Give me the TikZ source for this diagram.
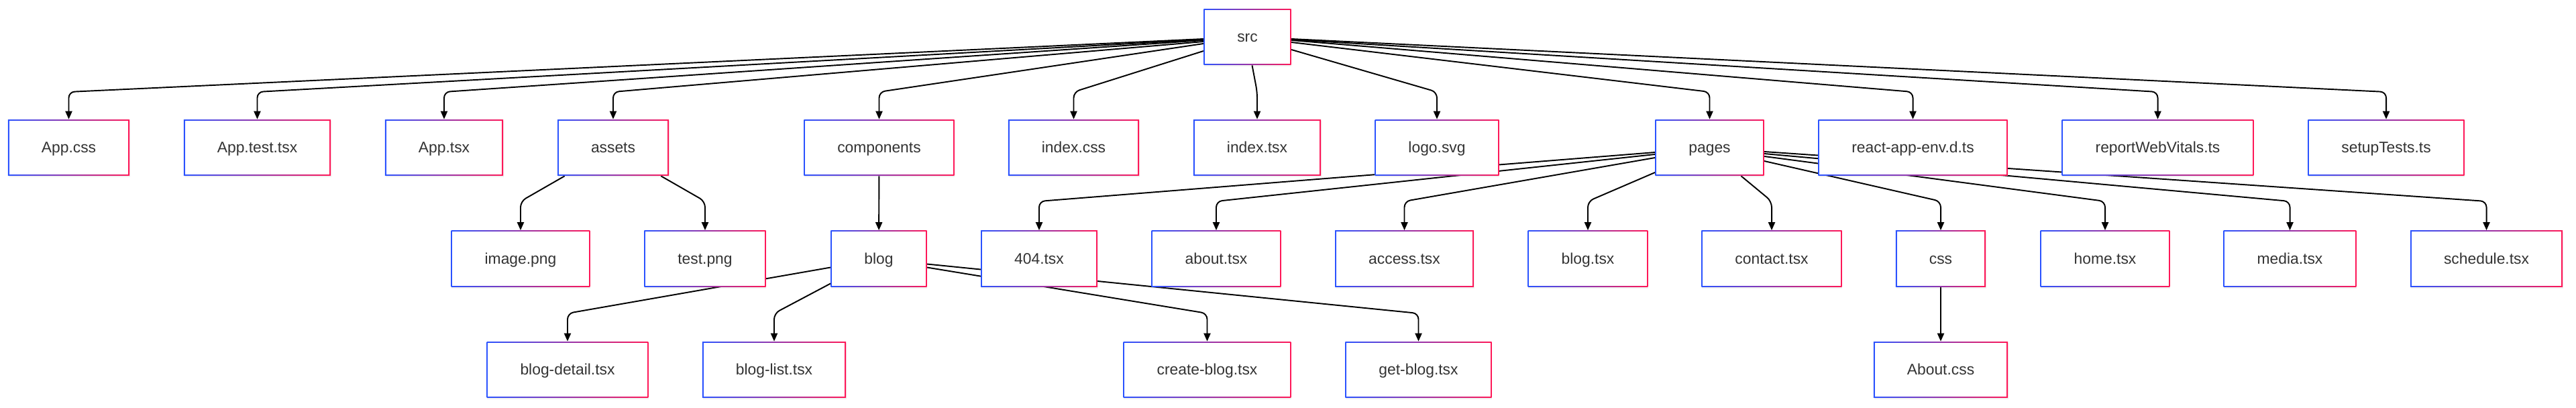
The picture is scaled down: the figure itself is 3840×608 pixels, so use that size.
\documentclass[tikz,border=0pt]{standalone}
\usepackage{fontspec}
\setmainfont{Liberation Sans}
\definecolor{dirblue}{HTML}{2A52FF}
\definecolor{dirred}{HTML}{FF1757}
\definecolor{labelgray}{HTML}{333333}
\usetikzlibrary{arrows.meta, calc, shadows, backgrounds}

\begin{document}
\begin{tikzpicture}[x=0.02cm, y=-0.02cm,
      file/.style={rectangle, fill=white, inner xsep=1cm, minimum height=1.68cm,
                   text height=11.8pt, text depth=2.8pt,
                   text=labelgray, font=\fontsize{13}{15}\selectfont,
                   drop shadow={shadow xshift=0.4pt, shadow yshift=-1.2pt, opacity=0.12},
                   path picture={
                     \shade[left color=dirblue, right color=dirred]
                       (path picture bounding box.south west) rectangle (path picture bounding box.north east);
                     \fill[white]
                       ([shift={(0.034cm,0.034cm)}]path picture bounding box.south west) rectangle
                       ([shift={(-0.034cm,-0.034cm)}]path picture bounding box.north east);
                   }},
      arr/.style={-{Triangle[length=6.8pt, width=5.7pt]}, line width=1.1pt,
                  rounded corners=5pt, black}
    ]
      \useasboundingbox (0,0) rectangle (3840,608);

      % root
      \node[file] (src) at (1859.5,55) {src};

      % first level
      \node[file] (appcss) at (102.5,220) {App.css};
      \node[file] (apptest) at (383.5,220) {App.test.tsx};
      \node[file] (apptsx) at (662,220) {App.tsx};
      \node[file] (assets) at (914,220) {assets};
      \node[file] (components) at (1310.5,220) {components};
      \node[file] (indexcss) at (1600.5,220) {index.css};
      \node[file] (indextsx) at (1874,220) {index.tsx};
      \node[file] (logosvg) at (2142,220) {logo.svg};
      \node[file] (pages) at (2548.5,220) {pages};
      \node[file] (reactenv) at (2851.5,220) {react-app-env.d.ts};
      \node[file] (reportvitals) at (3216.5,220) {reportWebVitals.ts};
      \node[file] (setuptests) at (3557,220) {setupTests.ts};

      % second level
      \node[file] (imagepng) at (776,385.5) {image.png};
      \node[file] (testpng) at (1051,385.5) {test.png};
      \node[file] (blogdir) at (1310,385.5) {blog};
      \node[file] (notfound) at (1549,385.5) {404.tsx};
      \node[file] (abouttsx) at (1813,385.5) {about.tsx};
      \node[file] (accesstsx) at (2093.5,385.5) {access.tsx};
      \node[file] (blogtsx) at (2367,385.5) {blog.tsx};
      \node[file] (contacttsx) at (2641,385.5) {contact.tsx};
      \node[file] (cssdir) at (2893,385.5) {css};
      \node[file] (hometsx) at (3138,385.5) {home.tsx};
      \node[file] (mediatsx) at (3413.5,385.5) {media.tsx};
      \node[file] (scheduletsx) at (3706.5,385.5) {schedule.tsx};

      % third level
      \node[file] (blogdetail) at (846,551) {blog-detail.tsx};
      \node[file] (bloglist) at (1154,551) {blog-list.tsx};
      \node[file] (createblog) at (1799.5,551) {create-blog.tsx};
      \node[file] (getblog) at (2114.5,551) {get-blog.tsx};
      \node[file] (aboutcss) at (2893,551) {About.css};

      % lanes where the edges turn down
      \coordinate (lane1) at (0,137);
      \coordinate (lane2) at (0,300);
      \coordinate (lane3) at (0,467);

      \begin{pgfonlayer}{background}
      \draw[arr] ($(src.west)+(0,3)$) -- (appcss |- lane1) -- (appcss);
      \draw[arr] ($(src.west)+(0,4)$) -- (apptest |- lane1) -- (apptest);
      \draw[arr] ($(src.west)+(0,5)$) -- (apptsx |- lane1) -- (apptsx);
      \draw[arr] ($(src.west)+(0,7)$) -- (assets |- lane1) -- (assets);
      \draw[arr] ($(src.west)+(0,10)$) -- (components |- lane1) -- (components);
      \draw[arr] ($(src.west)+(0,21)$) -- (indexcss |- lane1) -- (indexcss);
      \draw[arr] ($(src.south)+(7,0)$) -- (indextsx |- lane1) -- (indextsx);
      \draw[arr] ($(src.east)+(0,19)$) -- (logosvg |- lane1) -- (logosvg);
      \draw[arr] ($(src.east)+(0,8)$) -- (pages |- lane1) -- (pages);
      \draw[arr] ($(src.east)+(0,5)$) -- (reactenv |- lane1) -- (reactenv);
      \draw[arr] ($(src.east)+(0,4)$) -- (reportvitals |- lane1) -- (reportvitals);
      \draw[arr] ($(src.east)+(0,3)$) -- (setuptests |- lane1) -- (setuptests);

      \draw[arr] ($(assets.south west)+(11,0)$) -- (imagepng |- lane2) -- (imagepng);
      \draw[arr] ($(assets.south east)+(-12,0)$) -- (testpng |- lane2) -- (testpng);
      \draw[arr] (components) -- (blogdir);
      \draw[arr] ($(pages.west)+(0,7)$) -- (notfound |- lane2) -- (notfound);
      \draw[arr] ($(pages.west)+(0,10)$) -- (abouttsx |- lane2) -- (abouttsx);
      \draw[arr] ($(pages.west)+(0,15)$) -- (accesstsx |- lane2) -- (accesstsx);
      \draw[arr] ($(pages.west)+(0,37)$) -- (blogtsx |- lane2) -- (blogtsx);
      \draw[arr] ($(pages.south)+(47,0)$) -- (contacttsx |- lane2) -- (contacttsx);
      \draw[arr] ($(pages.east)+(0,20)$) -- (cssdir |- lane2) -- (cssdir);
      \draw[arr] ($(pages.east)+(0,13)$) -- (hometsx |- lane2) -- (hometsx);
      \draw[arr] ($(pages.east)+(0,9)$) -- (mediatsx |- lane2) -- (mediatsx);
      \draw[arr] ($(pages.east)+(0,6)$) -- (scheduletsx |- lane2) -- (scheduletsx);

      \draw[arr] ($(blogdir.west)+(0,13)$) -- (blogdetail |- lane3) -- (blogdetail);
      \draw[arr] ($(blogdir.west)+(0,37)$) -- (bloglist |- lane3) -- (bloglist);
      \draw[arr] ($(blogdir.east)+(0,13)$) -- (createblog |- lane3) -- (createblog);
      \draw[arr] ($(blogdir.east)+(0,8)$) -- (getblog |- lane3) -- (getblog);
      \draw[arr] (cssdir) -- (aboutcss);
      \end{pgfonlayer}
    \end{tikzpicture}
\end{document}
